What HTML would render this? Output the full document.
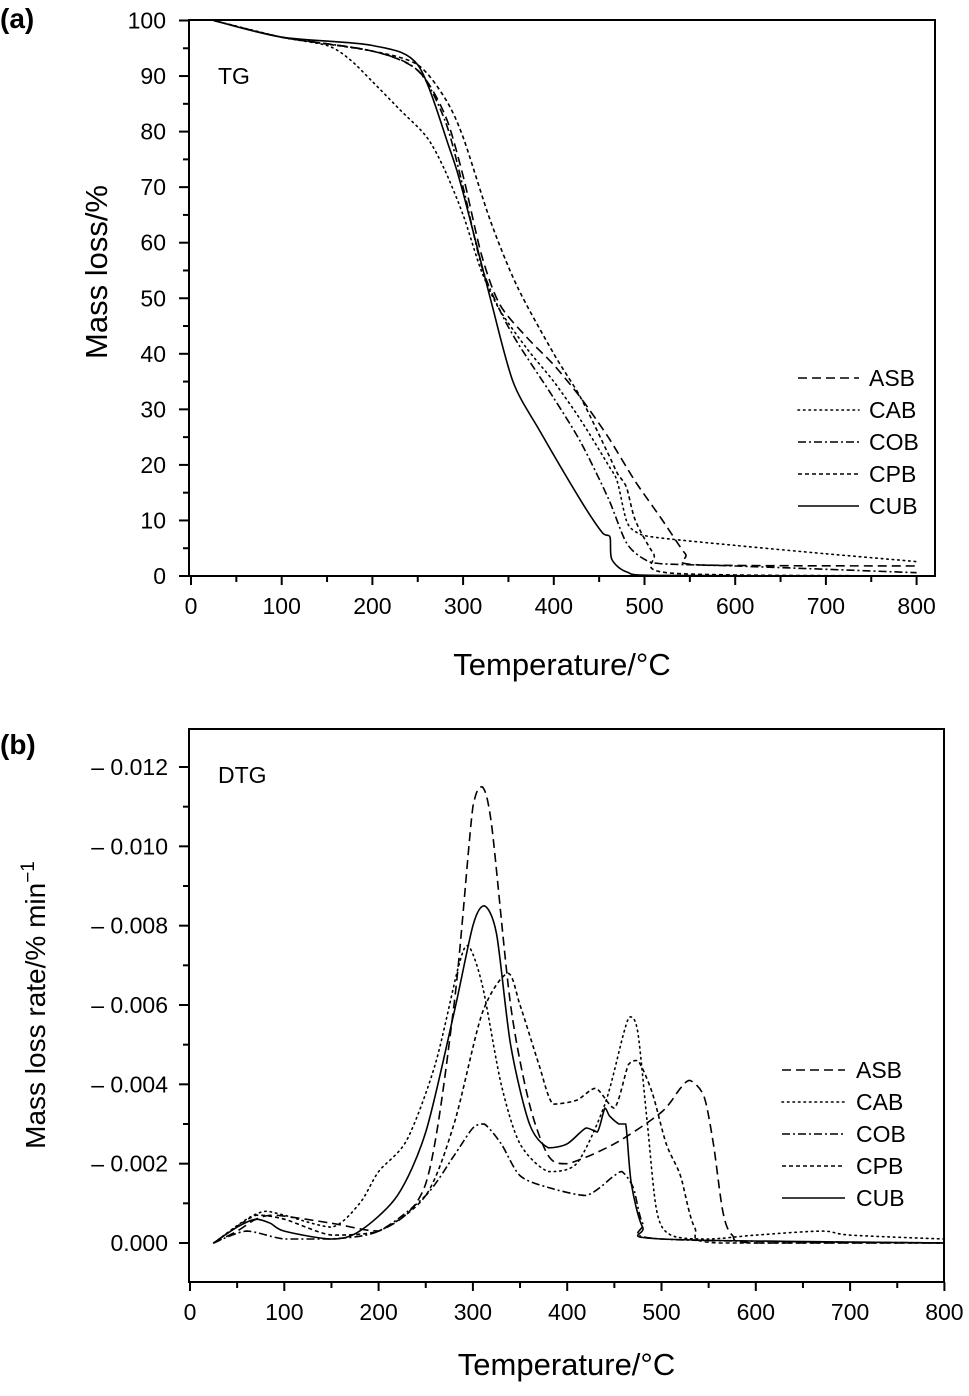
<!DOCTYPE html>
<html><head><meta charset="utf-8"><style>
body{margin:0;background:#fff}
svg text{font-family:"Liberation Sans",Arial,sans-serif;fill:#000}
</style></head><body>
<svg id="chart" width="969" height="1391" viewBox="0 0 969 1391" xmlns="http://www.w3.org/2000/svg">
<g id="pa"></g>
<g id="pb"></g>
</svg>
<script>
const series = ["ASB","CAB","COB","CPB","CUB"];
const dashes = {ASB:"9,5",CAB:"1.5,4",COB:"8,3,2,3",CPB:"4,3",CUB:""};
// TG data: [temperature, mass %]
const tgASB=[[25,100],[100,97],[200,94.5],[250,91],[280,83],[300,72],[320,58],[340,49],[370,43],[400,38],[430,32],[460,25],[490,17],[520,10],[545,4],[560,2],[800,1.8]];
const tgCAB=[[25,100],[100,97],[150,95.5],[175,93],[200,89],[230,84],[260,79],[280,73],[300,65],[320,55],[340,48],[370,41],[400,35],[430,28],[460,20],[470,17],[480,10],[490,8],[510,7],[600,5.5],[700,4],[800,2.6]];
const tgCOB=[[25,100],[100,97],[200,94.5],[250,91],[280,82],[300,70],[320,56],[340,48],[360,42],[400,32],[430,24],[460,14],[480,6],[500,3],[520,2.2],[600,1.8],[800,0.6]];
const tgCPB=[[25,100],[100,97],[200,94.5],[250,92],[280,86],[300,79],[330,64],[360,52],[400,40],[430,32],[460,22],[470,18.5],[480,16],[490,10],[510,4],[530,0.5],[800,0]];
const tgCUB=[[25,100],[100,97],[200,95.5],[250,92],[285,77],[300,69],[330,50],[355,35],[385,26],[432,13],[454,7.7],[462,7],[464,3],[481,0.7],[520,0.1],[800,0]];
// DTG data: [temperature, rate %/min]
const dtgASB=[[25,0],[50,-0.0003],[70,-0.0006],[90,-0.0007],[150,-0.0005],[200,-0.0003],[250,-0.0015],[280,-0.006],[300,-0.011],[310,-0.0115],[320,-0.0105],[340,-0.006],[360,-0.0035],[380,-0.0022],[400,-0.002],[450,-0.0025],[500,-0.0033],[520,-0.0039],[530,-0.0041],[545,-0.0037],[555,-0.0025],[565,-0.0008],[575,-0.0002],[600,0],[800,0]];
const dtgCAB=[[25,0],[60,-0.0006],[80,-0.0008],[100,-0.0007],[150,-0.0004],[180,-0.001],[200,-0.0018],[230,-0.0026],[260,-0.0045],[285,-0.007],[295,-0.0075],[310,-0.0065],[330,-0.004],[350,-0.0025],[380,-0.0018],[410,-0.002],[440,-0.0035],[460,-0.0053],[467,-0.0057],[475,-0.0053],[485,-0.003],[495,-0.0008],[510,-0.0002],[550,-0.0001],[600,-0.0002],[670,-0.0003],[700,-0.0002],[800,-0.0001]];
const dtgCOB=[[25,0],[60,-0.0003],[100,-0.0001],[150,-0.0001],[200,-0.0003],[250,-0.0012],[280,-0.0022],[300,-0.0029],[312,-0.003],[330,-0.0025],[350,-0.0017],[380,-0.0014],[420,-0.0012],[450,-0.0017],[458,-0.0018],[470,-0.0014],[480,-0.0005],[500,-0.0001],[800,0]];
const dtgCPB=[[25,0],[70,-0.0007],[100,-0.0006],[150,-0.0002],[200,-0.0003],[250,-0.0012],[280,-0.003],[310,-0.0058],[337,-0.0068],[350,-0.006],[370,-0.0045],[385,-0.0035],[410,-0.0036],[430,-0.0039],[450,-0.0034],[465,-0.0045],[475,-0.0046],[490,-0.0038],[505,-0.0025],[520,-0.0017],[535,-0.0004],[560,0],[800,0]];
const dtgCUB=[[25,0],[50,-0.0004],[70,-0.0006],[85,-0.0005],[100,-0.0003],[150,-0.0001],[180,-0.0003],[220,-0.0012],[250,-0.0028],[280,-0.0058],[300,-0.008],[312,-0.0085],[325,-0.0078],[340,-0.005],[360,-0.003],[380,-0.0024],[400,-0.0025],[420,-0.0029],[432,-0.0028],[440,-0.0034],[445,-0.0032],[455,-0.003],[462,-0.003],[468,-0.0015],[480,-0.0004],[500,-0.0001],[800,0]];
const tgY=[0,10,20,30,40,50,60,70,80,90,100];
const xTicks=[0,100,200,300,400,500,600,700,800];
const dtgY=[0,-0.002,-0.004,-0.006,-0.008,-0.01,-0.012];
const dtgYLabels=["0.000","\u2013 0.002","\u2013 0.004","\u2013 0.006","\u2013 0.008","\u2013 0.010","\u2013 0.012"];

const NS="http://www.w3.org/2000/svg";
function mk(p,t,a){const e=document.createElementNS(NS,t);for(const k in a)e.setAttribute(k,a[k]);p.appendChild(e);return e;}
function clamp(v,a,b){const lo=Math.min(a,b),hi=Math.max(a,b);return Math.max(lo,Math.min(hi,v));}
function smooth(pts){
  let d="M"+pts[0][0].toFixed(1)+","+pts[0][1].toFixed(1);
  for(let i=0;i<pts.length-1;i++){
    const p0=pts[Math.max(0,i-1)],p1=pts[i],p2=pts[i+1],p3=pts[Math.min(pts.length-1,i+2)];
    const t=0.14;
    const c1=[p1[0]+(p2[0]-p0[0])*t,clamp(p1[1]+(p2[1]-p0[1])*t,p1[1],p2[1])];
    const c2=[p2[0]-(p3[0]-p1[0])*t,clamp(p2[1]-(p3[1]-p1[1])*t,p1[1],p2[1])];
    d+=" C"+c1[0].toFixed(1)+","+c1[1].toFixed(1)+" "+c2[0].toFixed(1)+","+c2[1].toFixed(1)+" "+p2[0].toFixed(1)+","+p2[1].toFixed(1);
  }
  return d;
}

function panel(g,o){
  const {L,R,T,B,x}=o;
  const box=mk(g,"rect",{x:L,y:T,width:R-L,height:B-T,fill:"none",stroke:"#000","stroke-width":2});
  
  
  for(let v=0;v<=800;v+=50){
    const X=x(v),maj=v%100===0;
    const t=mk(g,"line",{x1:X,x2:X,y1:B,y2:B+(maj?9:6),stroke:"#000","stroke-width":2});
    
    
  }
  xTicks.forEach(v=>{
    const t=mk(g,"text",{x:x(v),y:B+38,"font-size":23,"text-anchor":"middle"});t.textContent=v;
    
    
  });
  const xt=mk(g,"text",{x:(L+R)/2,y:o.xtY,"font-size":31,"text-anchor":"middle"});xt.textContent="Temperature/°C";
  
  
}

// Panel A
const pa=document.getElementById("pa");
const ax=v=>191+0.907*v, ay=v=>576-5.555*v;
panel(pa,{L:189,R:935,T:20,B:576,x:ax,xtY:675});
for(let v=0;v<=100;v+=5){
  const maj=v%10===0;
  const t=mk(pa,"line",{x1:189-(maj?10:6),x2:189,y1:ay(v),y2:ay(v),stroke:"#000","stroke-width":2});
  
  
}
tgY.forEach(v=>{
  const t=mk(pa,"text",{x:166,y:ay(v)+8,"font-size":23,"text-anchor":"end"});t.textContent=v;
  
  
});
let t=mk(pa,"text",{x:0,y:0,"font-size":31,"text-anchor":"middle",transform:"translate(107,272) rotate(-90)"});t.textContent="Mass loss/%";


t=mk(pa,"text",{x:218,y:84,"font-size":23});t.textContent="TG";


t=mk(pa,"text",{x:0,y:28,"font-size":28,"font-weight":"bold"});t.textContent="(a)";


const tgData={ASB:tgASB,CAB:tgCAB,COB:tgCOB,CPB:tgCPB,CUB:tgCUB};
series.forEach((s,i)=>{
  const p=mk(pa,"path",{d:smooth(tgData[s].map(d=>[ax(d[0]),ay(d[1])])),fill:"none",stroke:"#000","stroke-width":1.6,"stroke-dasharray":dashes[s],"stroke-linecap":s==="CAB"?"round":"butt"});
  
  
  const ly=378+i*32;
  const l=mk(pa,"line",{x1:798,x2:859,y1:ly,y2:ly,stroke:"#000","stroke-width":1.6,"stroke-dasharray":dashes[s],"stroke-linecap":s==="CAB"?"round":"butt"});
  
  
  const lt=mk(pa,"text",{x:869,y:ly+8,"font-size":23});lt.textContent=s;
  
  
});

// Panel B
const pb=document.getElementById("pb");
const bx=v=>190+0.943*v, by=v=>1243+v*39667;
panel(pb,{L:189,R:944,T:729,B:1282,x:bx,xtY:1375});
for(let k=-13;k<=1;k++){
  const v=k*0.001,maj=k%2===0;
  if(by(v)<729||by(v)>1282)continue;
  const tl=mk(pb,"line",{x1:189-(maj?10:6),x2:189,y1:by(v),y2:by(v),stroke:"#000","stroke-width":2});
  
  
}
dtgY.forEach((v,i)=>{
  const tt=mk(pb,"text",{x:168,y:by(v)+8,"font-size":23,"text-anchor":"end"});tt.textContent=dtgYLabels[i];
  
  
});
t=mk(pb,"text",{x:0,y:0,"font-size":28,"text-anchor":"middle",transform:"translate(45,1005) rotate(-90)"});
t.innerHTML='Mass loss rate/% min<tspan dy="-11" font-size="19">\u22121</tspan>';


t=mk(pb,"text",{x:218,y:783,"font-size":23});t.textContent="DTG";


t=mk(pb,"text",{x:0,y:754,"font-size":28,"font-weight":"bold"});t.textContent="(b)";


const dtgData={ASB:dtgASB,CAB:dtgCAB,COB:dtgCOB,CPB:dtgCPB,CUB:dtgCUB};
series.forEach((s,i)=>{
  const p=mk(pb,"path",{d:smooth(dtgData[s].map(d=>[bx(d[0]),by(d[1])])),fill:"none",stroke:"#000","stroke-width":1.6,"stroke-dasharray":dashes[s],"stroke-linecap":s==="CAB"?"round":"butt"});
  
  
  const ly=1070+i*32;
  const l=mk(pb,"line",{x1:782,x2:845,y1:ly,y2:ly,stroke:"#000","stroke-width":1.6,"stroke-dasharray":dashes[s],"stroke-linecap":s==="CAB"?"round":"butt"});
  
  
  const lt=mk(pb,"text",{x:856,y:ly+8,"font-size":23});lt.textContent=s;
  
  
});
</script>
</body></html>
